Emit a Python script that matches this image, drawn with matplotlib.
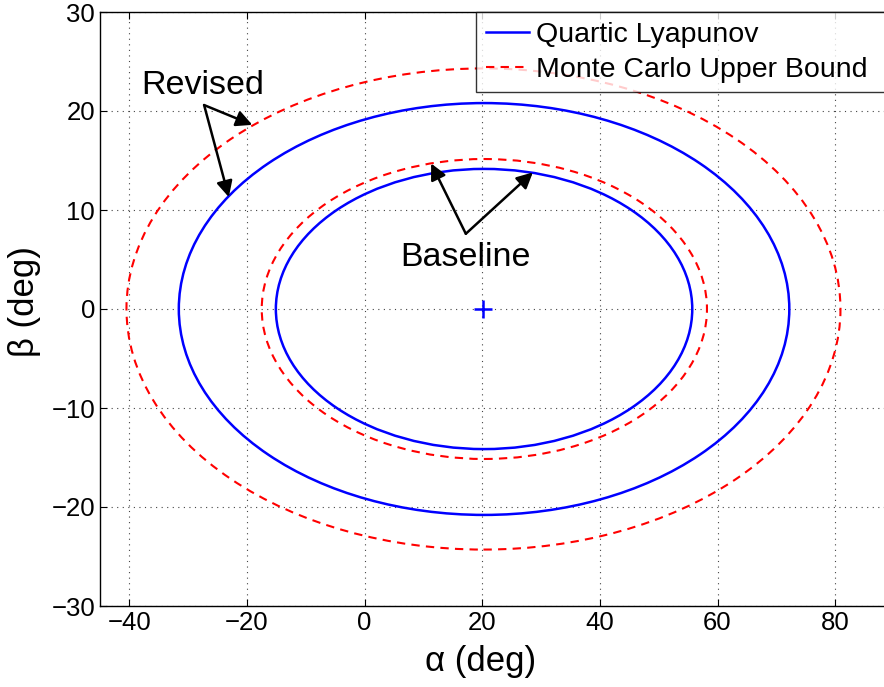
import numpy as np
import matplotlib.pyplot as plt
from matplotlib.patches import Ellipse

plt.rcParams['font.family'] = ['Liberation Sans', 'DejaVu Sans']

# level sets: centre alpha, centre beta, half width (alpha), half height (beta)
lyap_cx = [20.3, 20.3]
lyap_cy = [0.0, 0.0]
lyap_a = [35.4, 51.9]
lyap_b = [14.15, 20.8]

mc_cx = [20.35, 20.2]
mc_cy = [0.0, 0.0]
mc_a = [37.85, 60.7]
mc_b = [15.15, 24.3]

trim_pt = [20.2, 0.0]

fig = plt.figure(figsize=(8.84, 6.87), dpi=100)
ax = fig.add_axes([100/884, 81/687, 794/884, 594/687])

for i in range(len(lyap_a)):
    e = Ellipse((lyap_cx[i], lyap_cy[i]), 2*lyap_a[i], 2*lyap_b[i], fill=False,
                edgecolor='#0000ff', lw=1.8, zorder=3)
    ax.add_patch(e)
for i in range(len(mc_a)):
    e = Ellipse((mc_cx[i], mc_cy[i]), 2*mc_a[i], 2*mc_b[i], fill=False,
                edgecolor='#ff0000', lw=1.5, linestyle=(0, (4, 3)), zorder=3)
    ax.add_patch(e)

ax.plot(trim_pt[0], trim_pt[1], '+', color='#0000ff', ms=13, mew=1.8)

# legend proxies
ax.plot([], [], color='#0000ff', lw=1.8, label='Quartic Lyapunov')
ax.plot([], [], color='#ff0000', lw=1.5, linestyle=(0, (4, 3)), label='Monte Carlo Upper Bound')

arr = dict(arrowstyle='-|>', color='k', lw=1.8, mutation_scale=24, shrinkA=0, shrinkB=0)
ax.text(-27.5, 22.6, 'Revised', fontsize=24.5, ha='center', va='center')
ax.annotate('', xy=(-19.1, 18.6), xytext=(-27.3, 20.6), arrowprops=arr)
ax.annotate('', xy=(-23.1, 11.3), xytext=(-27.3, 20.6), arrowprops=arr)
ax.text(17.2, 5.2, 'Baseline', fontsize=24.5, ha='center', va='center')
ax.annotate('', xy=(11.3, 14.7), xytext=(17.2, 7.6), arrowprops=arr)
ax.annotate('', xy=(28.6, 13.8), xytext=(17.2, 7.6), arrowprops=arr)

ax.set_xlim(-45, 90)
ax.set_ylim(-30, 30)
ax.set_xticks(np.arange(-40, 81, 20))
ax.set_yticks(np.arange(-30, 31, 10))
ax.tick_params(direction='in', top=True, right=True, labelsize=18.5, length=5, width=0.8)
ax.set_xticklabels(['\u221240', '\u221220', '0', '20', '40', '60', '80'])
ax.set_yticklabels(['\u221230', '\u221220', '\u221210', '0', '10', '20', '30'])
ax.grid(True, linestyle=(0, (1, 4)), color='#444444', lw=0.8)
for s in ax.spines.values():
    s.set_linewidth(1.0)

ax.set_xlabel('\u03b1 (deg)', fontsize=25)
ax.set_ylabel('\u03b2 (deg)', fontsize=25)
ax.xaxis.set_label_coords(0.479, -0.066, transform=ax.transAxes)
ax.xaxis.label.set_va('top')
ax.yaxis.set_label_coords(-0.074, 0.513, transform=ax.transAxes)

# legend box runs past the right edge of the picture, as in the original
x0 = (476 - 100) / 794
leg = ax.legend(loc='upper left', bbox_to_anchor=(x0, 0.0, 1.0 - x0, 1.0), mode='expand',
                fontsize=20.5, frameon=True, fancybox=False,
                borderaxespad=0, handlelength=1.5, borderpad=0.35, labelspacing=0.3,
                handletextpad=0.25)
leg.get_frame().set_edgecolor('k')
leg.get_frame().set_linewidth(1.0)

fig.savefig('out.png', dpi=100)
